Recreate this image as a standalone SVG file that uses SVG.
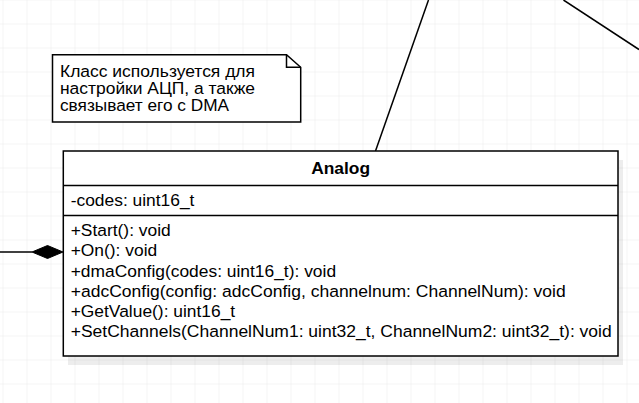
<svg xmlns="http://www.w3.org/2000/svg" width="639" height="403" viewBox="0 0 639 403">
  <defs>
    <pattern id="grid" x="2.5" y="-0.5" width="24" height="24" patternUnits="userSpaceOnUse">
      <path d="M 0 0 L 0 24 M 0 0 L 24 0" fill="none" stroke="#e9e9e9" stroke-width="1"/>
    </pattern>
    <style>
      .t { font-family: "Liberation Sans", Arial, sans-serif; font-size: 17.4px; fill: #000; }
      .n { font-size: 16.8px; }
      .b { font-weight: bold; }
      .box { fill: #fff; stroke: #000; stroke-width: 1.5; }
      .sep { stroke: #000; stroke-width: 1.5; fill: none; }
      .edge { stroke: #000; stroke-width: 1.5; fill: none; }
    </style>
  </defs>
  <rect x="0" y="0" width="639" height="403" fill="#fff"/>
  <rect x="0" y="0" width="639" height="403" fill="url(#grid)"/>

  <g id="connectors">
    <line class="edge" x1="428.5" y1="0" x2="375.5" y2="151"/>
    <line class="edge" x1="563.5" y1="0" x2="639" y2="49.5"/>
    <line class="edge" x1="0" y1="252" x2="32" y2="252"/>
    <polygon points="32,252 47.5,245.5 63,252 47.5,258.5" fill="#000" stroke="#000" stroke-width="1"/>
  </g>

  <g id="note">
    <path class="box" d="M 52.5 54.7 L 286.5 54.7 L 300.7 67.3 L 300.7 122 L 52.5 122 Z"/>
    <path class="sep" d="M 286.5 54.7 L 286.5 67.3 L 300.7 67.3"/>
    <text class="t n" x="60" y="76.5" textLength="195" lengthAdjust="spacingAndGlyphs">Класс используется для</text>
    <text class="t n" x="60" y="93.8" textLength="195" lengthAdjust="spacingAndGlyphs">настройки АЦП, а также</text>
    <text class="t n" x="60" y="111.1" textLength="169" lengthAdjust="spacingAndGlyphs">связывает его с DMA</text>
  </g>

  <g id="analog">
    <rect x="68" y="160" width="555" height="205" fill="#000" opacity="0.07"/>
    <rect class="box" x="63.3" y="151" width="554.7" height="205"/>
    <line class="sep" x1="63.3" y1="185.5" x2="618" y2="185.5"/>
    <line class="sep" x1="63.3" y1="215.5" x2="618" y2="215.5"/>
    <text class="t b" x="340.6" y="174" text-anchor="middle">Analog</text>
    <text class="t" x="70.7" y="206">-codes: uint16_t</text>
    <text class="t" x="70.7" y="235.7">+Start(): void</text>
    <text class="t" x="70.7" y="256">+On(): void</text>
    <text class="t" x="70.7" y="276.5">+dmaConfig(codes: uint16_t): void</text>
    <text class="t" x="70.7" y="296.8" textLength="495" lengthAdjust="spacingAndGlyphs">+adcConfig(config: adcConfig, channelnum: ChannelNum): void</text>
    <text class="t" x="70.7" y="317">+GetValue(): uint16_t</text>
    <text class="t" x="70.7" y="337" textLength="541" lengthAdjust="spacingAndGlyphs">+SetChannels(ChannelNum1: uint32_t, ChannelNum2: uint32_t): void</text>
  </g>
</svg>
